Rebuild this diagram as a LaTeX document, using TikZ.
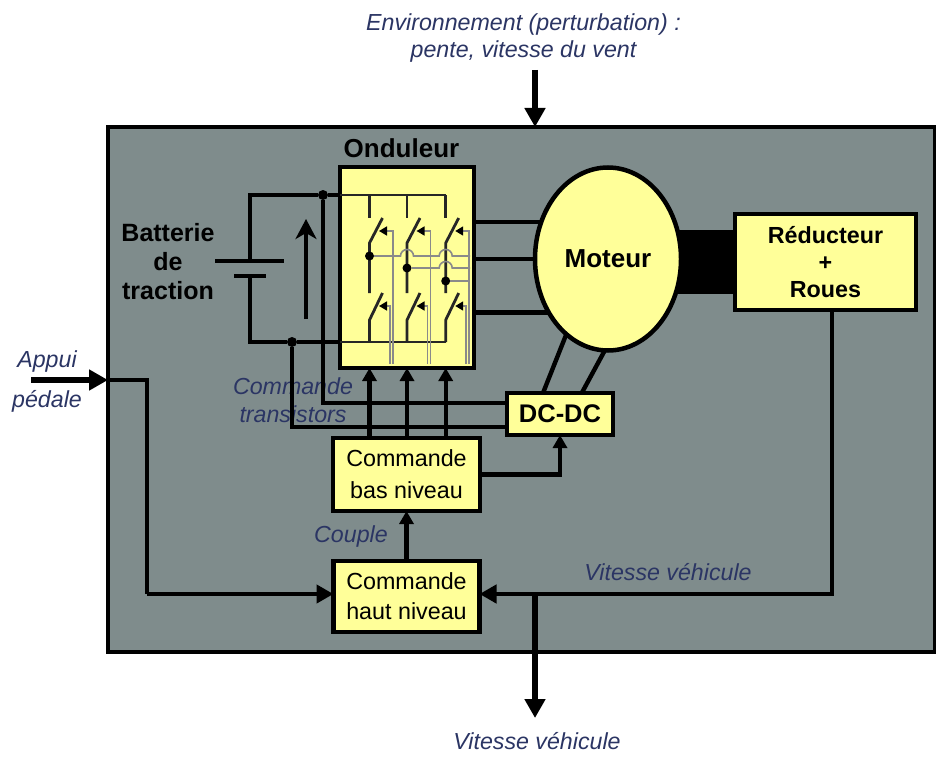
\documentclass[tikz,border=0pt]{standalone}
\usepackage{fontspec}
\setmainfont{Liberation Sans}
\usetikzlibrary{arrows.meta, positioning, shapes.geometric}
\definecolor{cadregris}{HTML}{7F8C8C}
\definecolor{jaune}{HTML}{FFFF99}
\definecolor{bleunuit}{HTML}{2B3564}
\definecolor{grille}{HTML}{8A8A8A}
\begin{document}
\begin{tikzpicture}[
  x=1pt, y=-1pt,
  txt/.style={font=\fontsize{23}{28}\selectfont, align=center, inner sep=0pt},
  note/.style={txt, font=\fontsize{23.2}{28}\selectfont\itshape, text=bleunuit},
  titre/.style={txt, font=\fontsize{26}{30}\selectfont\bfseries},
  box/.style={draw, line width=4.5pt, fill=jaune, outer sep=0pt, inner sep=0pt, align=center,
              font=\fontsize{23.3}{31}\selectfont},
  wire/.style={line width=4.4pt},
  inner/.style={line width=2.8pt, draw=black!85},
  gate/.style={line width=1.6pt, draw=grille},
  gatearr/.style={gate, -{Triangle[length=8pt, width=9pt, color=black, fill=black]}},
  arr/.style={wire, -{Triangle[length=13pt, width=14pt]}},
  bigarr/.style={line width=6.5pt, -{Triangle[length=19pt, width=20pt]}},
  dot/.style={circle, fill=black, inner sep=0pt, minimum size=10pt}
]
  \useasboundingbox (0,0) rectangle (936,765);
  \fill[white] (0,0) rectangle (936,765);
  \node[draw, line width=4pt, fill=cadregris, minimum width=827pt, minimum height=525pt,
        outer sep=0pt] (cadre) at (521.5,389.5) {};

  % power stage
  \node[box, minimum width=134pt, minimum height=201pt] (onduleur) at (407,267.5) {};
  \node[titre, above=9pt of onduleur, xshift=-5.5pt] (onduleurtxt) {Onduleur};
  \node[box, minimum width=181pt, minimum height=96pt, font=\fontsize{23.3}{27}\selectfont\bfseries] (reducteur) at (825.5,262)
       {R\'educteur\\+\\Roues};
  \node[fill=black, minimum width=62pt, minimum height=64pt, outer sep=0pt, left=0pt of reducteur] (arbre) {};
  \node[box, ellipse, minimum width=146pt, minimum height=183pt, font=\fontsize{26}{30}\selectfont\bfseries] (moteur) at (608,259) {Moteur};
  \node[txt, font=\fontsize{25}{29}\selectfont\bfseries] (batterie) at (168,262) {Batterie\\de\\traction};

  % control
  \node[box, minimum width=106pt, minimum height=42pt, font=\fontsize{25.5}{28}\selectfont\bfseries] (dcdc) at (560,414) {DC-DC};
  \node[box, minimum width=147pt, minimum height=73pt, font=\fontsize{23.3}{32}\selectfont] (bas) at (406.5,474.5) {Commande\\bas niveau};
  \node[box, minimum width=146pt, minimum height=71pt, font=\fontsize{23.3}{30}\selectfont, below=50pt of bas] (haut) {Commande\\haut niveau};

  % labels
  \node[note] (perturb) at (523.5,38.5) {Environnement (perturbation) :\\[-1pt]pente, vitesse du vent};
  \node[note, font=\fontsize{23.2}{40}\selectfont\itshape] (appui) at (47,381) {Appui\\p\'edale};
  \node[note] (cmdtrans) at (293,400) {Commande\\transistors};
  \node[note] (couple) at (351,536) {Couple};
  \node[note] (vitint) at (668,572) {Vitesse v\'ehicule};
  \node[note] (vitext) at (537,741) {Vitesse v\'ehicule};

  % battery
  \coordinate (batp) at (250,261);
  \coordinate (batn) at (250,276);
  \coordinate (railp) at (445.7,195);
  \coordinate (railn) at (445.7,342);
  \node[dot] (dotp) at (323,195) {};
  \node[dot] (dotn) at (292,342) {};
  \draw[wire] (215,261) -- (284,261);
  \draw[wire] (234,276) -- (266,276);
  \draw[wire] (batp) |- (dotp) -- (onduleur.west |- dotp);
  \draw[wire] (batn) |- (dotn) -- (onduleur.west |- dotn);
  \draw[inner] (onduleur.west |- dotp) -- (railp);
  \draw[inner] (onduleur.west |- dotn) -- (railn);
  \draw[wire, -{Stealth[length=20pt, width=21pt, inset=6pt]}] (306,319) -- (306,219);

  % switches
  \foreach \x/\g in {369.5/a, 407/b, 445.7/c} {
    \draw[inner] (\x,195) -- (\x,218);
    \draw[inner] (\x,218) ++(13,0) -- (\x,243) -- (\x,293);
    \draw[inner] (\x,293) ++(13,0) -- (\x,320) -- (\x,342);
    \draw[gatearr] (\x,364) ++(23.3,0) |- (\x+9.5,231);
    \draw[gatearr] (\x,364) ++(20.3,0) |- (\x+9.5,306);
  }

  % phase lines
  \node[dot, minimum size=9pt] (pha) at (369.5,256) {};
  \node[dot, minimum size=9pt] (phb) at (407,268) {};
  \node[dot, minimum size=9pt] (phc) at (445.7,281) {};
  \draw[gate] (pha) -- (400.5,256) arc[start angle=180, end angle=360, radius=6.5]
     -- (439.2,256) arc[start angle=180, end angle=360, radius=6.5] -- (470,256);
  \draw[gate] (phb) -- (439.2,268) arc[start angle=180, end angle=360, radius=6.5] -- (470,268);
  \draw[gate] (phc) -- (470,281);

  % connectors
  \draw[wire] (onduleur.east |- moteur.151) -- (moteur.151);
  \draw[wire] (onduleur.east |- moteur.west) -- (moteur.west);
  \draw[wire] (onduleur.east |- moteur.222) -- (moteur.222);
  \draw[wire] (dcdc.129) -- (moteur.241);
  \draw[wire] (dcdc.44) -- (moteur.268);
  \draw[wire] (dotp) |- (dcdc.168);
  \draw[wire] (dotn) |- (dcdc.194);
  \draw[arr] (bas.north -| pha) -- (onduleur.south -| pha);
  \draw[arr] (bas.north -| phb) -- (onduleur.south -| phb);
  \draw[arr] (bas.north -| phc) -- (onduleur.south -| phc);
  \draw[arr] (bas.east) -| (dcdc.south);
  \draw[arr] (haut.north) -- (bas.south);

  % inputs and outputs
  \coordinate (appuig) at (31,380);
  \coordinate (appuid) at (108,380);
  \coordinate (sortie) at (535,594);
  \coordinate (coude) at (147,594);
  \draw[wire] (appuid) -- (appuid -| coude) -- (coude);
  \draw[bigarr] (appuig) -- (appuid);
  \draw[arr, -{Triangle[length=17pt, width=18pt]}] (coude) -- (haut.west |- coude);
  \draw[wire, -{Triangle[length=17pt, width=18pt]}] (reducteur.south -| 832,0) |- (haut.east |- sortie);
  \draw[bigarr] (sortie) -- (535,718);
  \draw[bigarr] (535,70) -- (cadre.north -| 535,0);
\end{tikzpicture}
\end{document}
